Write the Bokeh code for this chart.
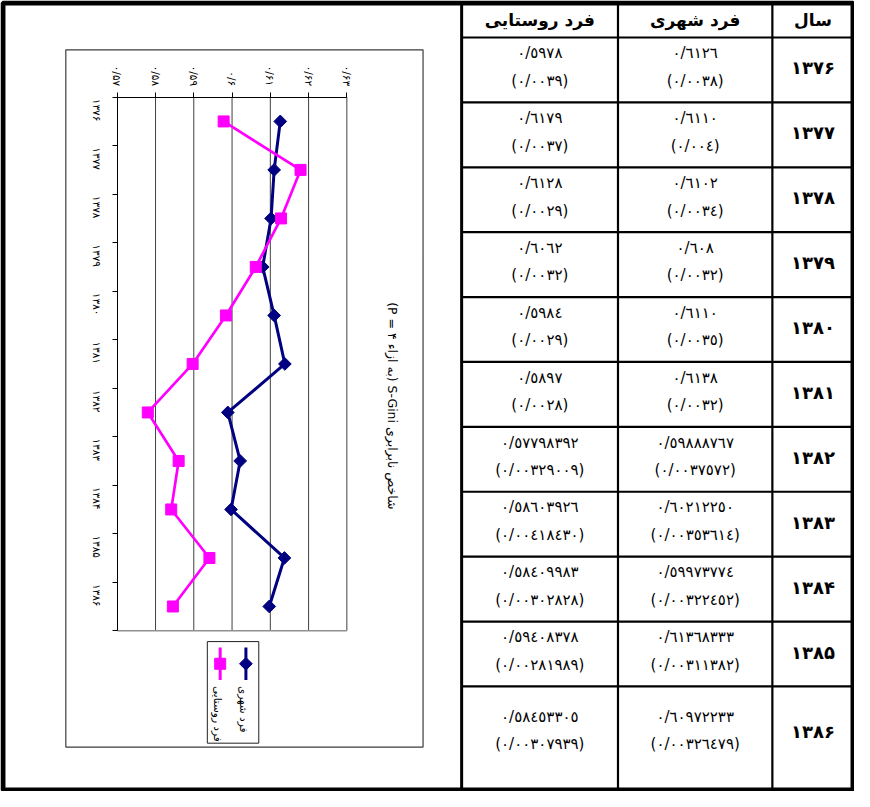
import math
from bokeh.plotting import figure
from bokeh.models import Range1d, LinearAxis, FixedTicker
from bokeh.core.properties import value
from bokeh.embed import file_html
from bokeh.resources import INLINE

# ---------------- data ----------------
years = ["1376", "1377", "1378", "1379", "1380", "1381",
         "1382", "1383", "1384", "1385", "1386"]
urban = ["0.6126", "0.6110", "0.6102", "0.608", "0.6110", "0.6138",
         "0.59888767", "0.60212250", "0.59973774", "0.61368333", "0.60972233"]
urban_se = ["0.0038", "0.004", "0.0034", "0.0032", "0.0035", "0.0032",
            "0.0037572", "0.00353614", "0.00322452", "0.00311382", "0.00326479"]
rural = ["0.5978", "0.6179", "0.6128", "0.6062", "0.5984", "0.5897",
         "0.57798392", "0.58603926", "0.58409983", "0.59408378", "0.58453305"]
rural_se = ["0.0039", "0.0037", "0.0029", "0.0032", "0.0029", "0.0028",
            "0.00329009", "0.00418430", "0.00302828", "0.00281989", "0.00307939"]
value_ticks = [0.57, 0.58, 0.59, 0.60, 0.61, 0.62, 0.63]
value_tick_labels = ["۰/۵۷", "۰/۵۸", "۰/۵۹", "۰/۶", "۰/۶۱", "۰/۶۲", "۰/۶۳"]
series_names = ["فرد شهری", "فرد روستایی"]
headers = ["فرد روستایی", "فرد شهری", "سال"]
chart_title = "(P = ۴ به ازاء) S-Gini شاخص نابرابری"

URBAN_COLOR = "#000080"
RURAL_COLOR = "#FF00FF"

AR = str.maketrans("0123456789.", "٠١٢٣٤٥٦٧٨٩/")
FA = str.maketrans("0123456789", "۰۱۲۳۴۵۶۷۸۹")


def ar_num(s):
    return s.translate(AR)


def fa_num(s):
    return s.translate(FA)


urban_v = [float(v) for v in urban]
rural_v = [float(v) for v in rural]
idx = list(range(len(years)))
n = len(years)

# ---------------- layout (reference page pixels) ----------------
W, H = 854, 791
RX0, RX1 = 5, 868
RY0, RY1 = 4, 806
PLOT_L, PLOT_R = 123, 355       # x pixel of first / last value tick
PLOT_T, PLOT_B = 102, 643       # y pixel of first / last category boundary

kx = (PLOT_R - PLOT_L) / (value_ticks[-1] - value_ticks[0])
x_start = value_ticks[0] - (PLOT_L - RX0) / kx
x_end = value_ticks[0] + (RX1 - PLOT_L) / kx
ky = (PLOT_B - PLOT_T) / n
y_top = -0.5 - (PLOT_T - RY0) / ky
y_bot = -0.5 + (RY1 - PLOT_T) / ky

p = figure(width=W, height=H,
           x_range=Range1d(x_start, x_end), y_range=Range1d(y_bot, y_top),
           x_axis_location=None, y_axis_location=None,
           toolbar_location=None, output_backend="svg",
           min_border=0, outline_line_color=None)
p.xgrid.visible = False
p.ygrid.visible = False
p.extra_x_ranges = {"px": Range1d(RX0, RX1)}
p.extra_y_ranges = {"px": Range1d(RY1, RY0)}
PX = dict(x_range_name="px", y_range_name="px")
FONT_NAME = "DejaVu Sans"
FONT = value(FONT_NAME)

# ---------------- chart ----------------
# chart area box
p.quad(left=[71], right=[432], top=[54], bottom=[761], fill_color="white",
       line_color="#3c3c3c", line_width=1.2, **PX)

# vertical gridlines and plot-area bottom border
p.segment(x0=value_ticks[1:], y0=-0.5, x1=value_ticks[1:], y1=n - 0.5,
          line_color="#404040", line_width=1)
p.segment(x0=[value_ticks[0]], y0=[n - 0.5], x1=[value_ticks[-1]], y1=[n - 0.5],
          line_color="#909090", line_width=1.5)

# value axis (top)
xax = LinearAxis(fixed_location=-0.5,
                 ticker=FixedTicker(ticks=value_ticks, minor_ticks=[]),
                 bounds=(value_ticks[0], value_ticks[-1]),
                 major_label_overrides=dict(zip(value_ticks, value_tick_labels)),
                 major_label_orientation=-math.pi / 2,
                 major_tick_out=5, major_tick_in=0,
                 minor_tick_out=0, minor_tick_in=0,
                 major_label_standoff=6,
                 major_label_text_font=FONT_NAME,
                 major_label_text_font_size="10.5px",
                 major_label_text_color="black",
                 axis_line_color="black", major_tick_line_color="black")
p.add_layout(xax, "above")

# category axis (left)
yax = LinearAxis(fixed_location=value_ticks[0],
                 ticker=FixedTicker(ticks=idx, minor_ticks=[i - 0.5 for i in range(n + 1)]),
                 bounds=(-0.5, n - 0.5),
                 major_label_overrides={i: fa_num(y) for i, y in zip(idx, years)},
                 major_label_orientation=-math.pi / 2,
                 major_tick_out=0, major_tick_in=0,
                 minor_tick_out=5, minor_tick_in=0,
                 major_label_standoff=15,
                 major_label_text_font=FONT_NAME,
                 major_label_text_font_size="10.5px",
                 major_label_text_color="black",
                 axis_line_color="black", minor_tick_line_color="black")
p.add_layout(yax, "left")

# series
p.line(x=urban_v, y=idx, line_color=URBAN_COLOR, line_width=3)
p.scatter(x=urban_v, y=idx, marker="square", angle=math.pi / 4, size=9,
          fill_color=URBAN_COLOR, line_color=URBAN_COLOR)
p.line(x=rural_v, y=idx, line_color=RURAL_COLOR, line_width=2.7)
p.scatter(x=rural_v, y=idx, marker="square", size=11,
          fill_color=RURAL_COLOR, line_color=RURAL_COLOR)

# rotated title
p.text(x=[401], y=[415], text=[chart_title], angle=-math.pi / 2,
       text_align="center", text_baseline="middle", text_font=FONT,
       text_font_size="12.5px", text_color="black", **PX)

# legend (rotated, drawn by hand)
p.quad(left=[214], right=[266], top=[654], bottom=[757], fill_color="white",
       line_color="#202020", line_width=1, **PX)
leg_x = [253, 227]
leg_colors = [URBAN_COLOR, RURAL_COLOR]
p.segment(x0=leg_x, y0=660, x1=leg_x, y1=693, line_color=leg_colors, line_width=3, **PX)
p.scatter(x=[leg_x[0]], y=[676.5], marker="square", angle=math.pi / 4, size=9,
          fill_color=URBAN_COLOR, line_color=URBAN_COLOR, **PX)
p.scatter(x=[leg_x[1]], y=[676.5], marker="square", size=11,
          fill_color=RURAL_COLOR, line_color=RURAL_COLOR, **PX)
p.text(x=[x - 2 for x in leg_x], y=[699, 699], text=series_names, angle=-math.pi / 2,
       text_align="left", text_baseline="middle", text_font=FONT,
       text_font_size="10.5px", text_color="black", **PX)

# ---------------- table ----------------
COL_X = [471, 629, 785, 867]
HDR_BOTTOM = 41.5
ROW_H = 65.8
TBL_BOTTOM = 805
row_top = [HDR_BOTTOM + ROW_H * k for k in range(n)]
row_bot = row_top[1:] + [TBL_BOTTOM]
centers = [(t + b) / 2 - 3 for t, b in zip(row_top, row_bot)]
centers[-1] = (row_top[-1] + row_bot[-1]) / 2 - 8

# horizontal rules
hy = [HDR_BOTTOM] + row_top[1:]
p.segment(x0=COL_X[0], y0=hy, x1=COL_X[-1], y1=hy, line_color="black", line_width=2.2, **PX)
# vertical rules
p.segment(x0=COL_X[:3], y0=6, x1=COL_X[:3], y1=TBL_BOTTOM,
          line_color="black", line_width=[3, 2.2, 2.2], **PX)
# outer frame
p.quad(left=[7.5], right=[866.5], top=[6.5], bottom=[804.5], fill_color=None,
       line_color="black", line_width=5, **PX)

col_c = [(COL_X[i] + COL_X[i + 1]) / 2 for i in range(3)]
p.text(x=col_c, y=[24] * 3, text=headers, text_align="center", text_baseline="middle",
       text_font=FONT, text_font_style="bold", text_font_size="17px",
       text_color="black", **PX)

for col, vals, ses in ((0, rural, rural_se), (1, urban, urban_se)):
    p.text(x=[col_c[col]] * n, y=[c - 14 for c in centers],
           text=[ar_num(v) for v in vals],
           text_align="center", text_baseline="middle", text_font=FONT,
           text_font_size="15px", text_color="black", **PX)
    p.text(x=[col_c[col]] * n, y=[c + 14 for c in centers],
           text=["(" + ar_num(s) + ")" for s in ses],
           text_align="center", text_baseline="middle", text_font=FONT,
           text_font_size="15px", text_color="black", **PX)

p.text(x=[col_c[2]] * n, y=[c + 1 for c in centers], text=[fa_num(y) for y in years],
       text_align="center", text_baseline="middle", text_font=FONT,
       text_font_style="bold", text_font_size="18px", text_color="black", **PX)

open("out.html", "w").write(file_html(p, INLINE))
